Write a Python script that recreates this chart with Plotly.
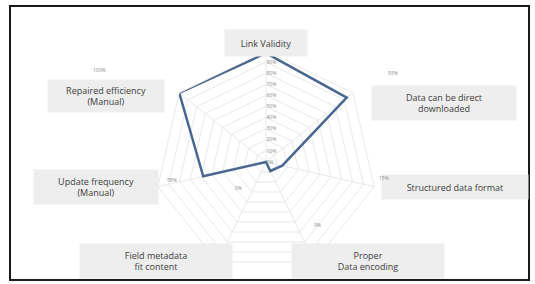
import plotly.graph_objects as go

categories = ["Link Validity", "Data can be direct downloaded", "Structured data format",
              "Proper Data encoding", "Field metadata fit content",
              "Update frequency (Manual)", "Repaired efficiency (Manual)"]
values = [98, 93, 15, 9, 0, 58, 100]
value_labels = ["", "93%", "15%", "9%", "0%", "58%", "100%"]
box_texts = ["Link Validity", "Data can be direct<br>downloaded", "Structured data format",
             "Proper<br>Data encoding", "Field metadata<br>fit content",
             "Update frequency<br>(Manual)", "Repaired efficiency<br>(Manual)"]

W, H = 535, 284
cx, cy, R = 266, 162, 111

fig = go.Figure()
fig.add_trace(go.Scatterpolar(
    r=values + values[:1],
    theta=categories + categories[:1],
    mode="lines",
    line=dict(color="#4a6791", width=2.5),
    showlegend=False,
))

# box positions (pixel centers, width, height)
box_geo = [(266, 43, 80, 24), (444, 103, 142, 32), (455, 187, 144, 22),
           (368, 261, 150, 32), (156, 261, 150, 32), (96, 187, 122, 32),
           (106, 96, 114, 30)]
label_pos = [(0, 0), (393, 73), (384, 178), (317, 225), (238, 188), (172, 180), (99, 70)]

ann = []
for t, (x, y, w, h) in zip(box_texts, box_geo):
    ann.append(dict(x=x / W, y=1 - y / H, xref="paper", yref="paper", text=t,
                    xanchor="center", yanchor="middle",
                    showarrow=False, width=w, height=h, bgcolor="#eeeeee",
                    font=dict(family="Open Sans", size=9, color="#404040"),
                    align="center", valign="middle"))
for t, (x, y) in zip(value_labels, label_pos):
    if t:
        ann.append(dict(x=x / W, y=1 - y / H, xref="paper", yref="paper", text=t,
                        xanchor="center", yanchor="middle",
                        showarrow=False,
                        font=dict(family="Open Sans", size=5, color="#8a8a8a")))

fig.update_layout(
    width=W, height=H,
    margin=dict(l=0, r=0, t=0, b=0),
    paper_bgcolor="white",
    polar=dict(
        domain=dict(x=[(cx - R) / W, (cx + R) / W], y=[(H - cy - R) / H, (H - cy + R) / H]),
        gridshape="linear",
        bgcolor="white",
        radialaxis=dict(range=[0, 100], dtick=10, ticksuffix="%", angle=90,
                        tickangle=90, showline=False, ticks="",
                        gridcolor="#e9e9e9", gridwidth=1,
                        tickfont=dict(family="Open Sans", size=5, color="#8a8a8a")),
        angularaxis=dict(direction="clockwise", rotation=90, showticklabels=False,
                         ticks="", gridcolor="#e9e9e9", linecolor="#e9e9e9"),
    ),
    annotations=ann,
    shapes=[dict(type="rect", xref="paper", yref="paper",
                 x0=10 / W, x1=529 / W, y0=1 - 280 / H, y1=1 - 6 / H,
                 line=dict(color="#1a1a1a", width=2))],
)

fig.write_html("out.html", config={"displayModeBar": False},
               post_script="document.body.style.margin='0';document.body.style.overflow='hidden';")
